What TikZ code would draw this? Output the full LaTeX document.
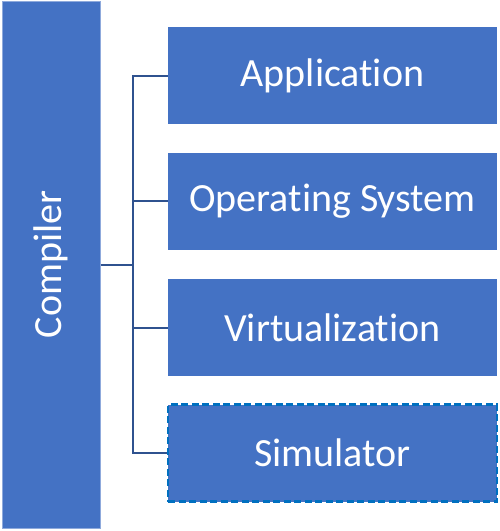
\documentclass[tikz,border=0pt]{standalone}
\usepackage{fontspec}
\setmainfont[Ligatures=NoCommon]{Carlito}
\definecolor{boxblue}{HTML}{4472C4}
\definecolor{edgeblue}{HTML}{8FAADC}
\definecolor{linkblue}{HTML}{2F528F}
\definecolor{dashblue}{HTML}{0070C0}
\tikzset{
  layerbox/.style={fill=boxblue, text=white, minimum width=329pt, minimum height=97pt,
    inner sep=0pt, font=\fontsize{40}{47}\selectfont},
  link/.style={line width=2pt, color=linkblue}
}
\begin{document}
\begin{tikzpicture}[line cap=butt,line join=miter,x=1pt,y=-1pt]
	\useasboundingbox (0,0) rectangle (499,531);
	\node[fill=boxblue, draw=edgeblue, line width=1pt, minimum width=98pt, minimum height=527pt, inner sep=0pt] (comp) at (51,264.5) {};
	\node[text=white, rotate=90, font=\fontsize{40}{47}\selectfont] at (comp.center) {Compiler};
	
	\node[layerbox] (app) at (332.5,75.5) {Application};
	\node[layerbox] (os) at (332.5,201) {Operating System};
	\node[layerbox] (virt) at (332.5,327.5) {Virtualization};
	\node[layerbox, draw=dashblue, line width=2.5pt, dash pattern=on 7pt off 3.5pt] (sim) at (332.5,453) {Simulator};
	
	\coordinate (trunk) at (133,264.5);
	\draw [link] (comp.east) -- (trunk);
	\draw [link] (trunk) |- (app.west);
	\draw [link] (trunk) |- (os.west);
	\draw [link] (trunk) |- (virt.west);
	\draw [link] (trunk) |- (sim.west);
\end{tikzpicture}
\end{document}
